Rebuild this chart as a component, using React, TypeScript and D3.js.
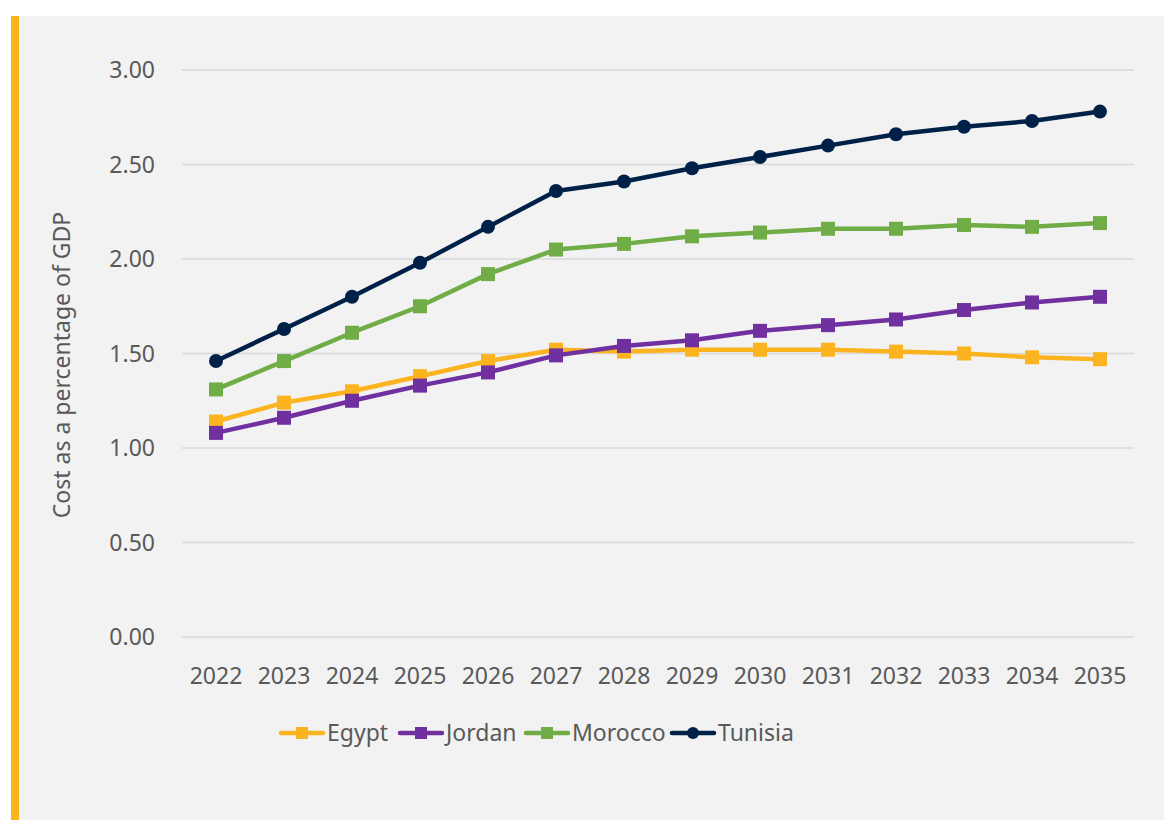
import React from 'react';
import * as d3 from 'd3';

const years = ['2022', '2023', '2024', '2025', '2026', '2027', '2028', '2029', '2030', '2031', '2032', '2033', '2034', '2035'];
const egypt = [1.14, 1.24, 1.30, 1.38, 1.46, 1.52, 1.51, 1.52, 1.52, 1.52, 1.51, 1.50, 1.48, 1.47];
const jordan = [1.08, 1.16, 1.25, 1.33, 1.40, 1.49, 1.54, 1.57, 1.62, 1.65, 1.68, 1.73, 1.77, 1.80];
const morocco = [1.31, 1.46, 1.61, 1.75, 1.92, 2.05, 2.08, 2.12, 2.14, 2.16, 2.16, 2.18, 2.17, 2.19];
const tunisia = [1.46, 1.63, 1.80, 1.98, 2.17, 2.36, 2.41, 2.48, 2.54, 2.60, 2.66, 2.70, 2.73, 2.78];
const yTicks = [0, 0.5, 1, 1.5, 2, 2.5, 3];

const series = [
  { name: 'Egypt', values: egypt, color: '#fbb41f', marker: 'square' },
  { name: 'Jordan', values: jordan, color: '#7030a0', marker: 'square' },
  { name: 'Morocco', values: morocco, color: '#70ad47', marker: 'square' },
  { name: 'Tunisia', values: tunisia, color: '#002147', marker: 'circle' },
];

const W = 1164;
const H = 820;
const FONT = '"Noto Sans", "Open Sans", sans-serif';
const TEXT = '#595959';

const App: React.FC = () => {
  const x = d3.scaleBand<string>().domain(years).range([182, 1134]);
  const y = d3.scaleLinear().domain([0, 3]).range([637, 70]);
  const cx = (yr: string) => (x(yr) as number) + x.bandwidth() / 2;

  const line = d3.line<number>()
    .x((_, i) => cx(years[i]))
    .y(d => y(d));

  const marker = (kind: string, px: number, py: number, color: string, key: string | number) =>
    kind === 'circle'
      ? <circle key={key} cx={px} cy={py} r={7} fill={color} />
      : <rect key={key} x={px - 7} y={py - 7} width={14} height={14} fill={color} />;

  // legend layout
  const legendX = [281, 400, 526, 672];
  const legendY = 733;

  return (
    <svg width={W} height={H} style={{ position: 'absolute', left: 0, top: 0 }} fontFamily={FONT}>
      <rect x={0} y={0} width={W} height={H} fill="#ffffff" />
      <rect x={11} y={16} width={W - 11} height={H - 16} fill="#f2f2f2" />
      <rect x={11} y={16} width={8} height={H - 16} fill="#fbb41f" />

      {yTicks.map(t => (
        <g key={t}>
          <line x1={182} x2={1134} y1={y(t)} y2={y(t)} stroke="#d9d9d9" strokeWidth={1.5} />
          <text x={155} y={y(t)} dy="0.35em" textAnchor="end" fontSize={23} fill={TEXT}>
            {d3.format('.2f')(t)}
          </text>
        </g>
      ))}

      {years.map(yr => (
        <text key={yr} x={cx(yr)} y={676} dy="0.35em" textAnchor="middle" fontSize={23} fill={TEXT}>
          {yr}
        </text>
      ))}

      <text
        transform="translate(62,365) rotate(-90)"
        textAnchor="middle"
        dy="0.35em"
        fontSize={23}
        fill={TEXT}
      >
        Cost as a percentage of GDP
      </text>

      {series.map(s => (
        <g key={s.name}>
          <path d={line(s.values) || ''} fill="none" stroke={s.color} strokeWidth={4.5} strokeLinejoin="round" />
          {s.values.map((v, i) => marker(s.marker, cx(years[i]), y(v), s.color, i))}
        </g>
      ))}

      {series.map((s, i) => (
        <g key={s.name} transform={`translate(${legendX[i]},${legendY})`}>
          <line x1={0} x2={42} y1={0} y2={0} stroke={s.color} strokeWidth={4.5} strokeLinecap="round" />
          {s.marker === 'circle'
            ? <circle cx={21} cy={0} r={6} fill={s.color} />
            : <rect x={15} y={-6} width={12} height={12} fill={s.color} />}
          <text x={46} y={0} dy="0.35em" fontSize={23} fill={TEXT}>{s.name}</text>
        </g>
      ))}
    </svg>
  );
};

export default App;
